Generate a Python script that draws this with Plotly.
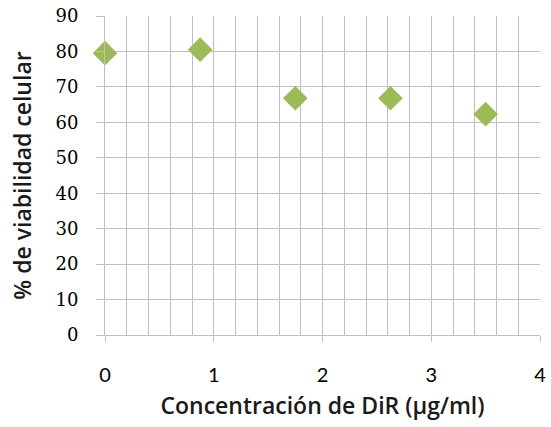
import plotly.graph_objects as go

# Cell viability vs DiR concentration
concentracion = [0.0, 0.875, 1.75, 2.625, 3.5]
viabilidad = [79.5, 80.5, 66.8, 66.8, 62.3]

x_ticks = [0, 1, 2, 3, 4]
y_ticks = [0, 10, 20, 30, 40, 50, 60, 70, 80, 90]

grid = "#bfbfbf"
title_font = dict(family="Open Sans", size=23, color="#1a1a1a", weight=600)

fig = go.Figure()
fig.add_trace(go.Scatter(
    x=concentracion, y=viabilidad, mode="markers",
    marker=dict(symbol="diamond", size=19, color="#9bbb59",
                line=dict(width=0)),
    cliponaxis=False,
    showlegend=False,
))

fig.update_layout(
    width=551, height=427,
    margin=dict(l=105, r=5, t=14, b=92),
    plot_bgcolor="white", paper_bgcolor="white",
)
fig.update_xaxes(
    range=[0, 4], tickvals=x_ticks, ticktext=[str(v) for v in x_ticks],
    showgrid=True, gridcolor=grid, gridwidth=1,
    minor=dict(dtick=0.2, showgrid=True, gridcolor=grid, gridwidth=1),
    showline=True, linecolor=grid, linewidth=1,
    ticks="outside", ticklen=6, tickcolor=grid,
    ticklabelstandoff=16, ticklabeloverflow="allow",
    tickfont=dict(family="Lato", size=20, color="black"),
    title=dict(text="Concentración de DiR (µg/ml)", font=title_font,
               standoff=12),
    zeroline=False,
)
fig.update_yaxes(
    range=[0, 90], tickvals=y_ticks,
    showgrid=True, gridcolor=grid, gridwidth=1,
    showline=True, linecolor=grid, linewidth=1,
    ticks="outside", ticklen=8, tickcolor=grid,
    ticklabelstandoff=14,
    tickfont=dict(family="DejaVu Serif", size=18, color="black"),
    title=dict(text="% de viabilidad celular", font=title_font,
               standoff=17),
    zeroline=False,
)

fig.write_html("out.html")
